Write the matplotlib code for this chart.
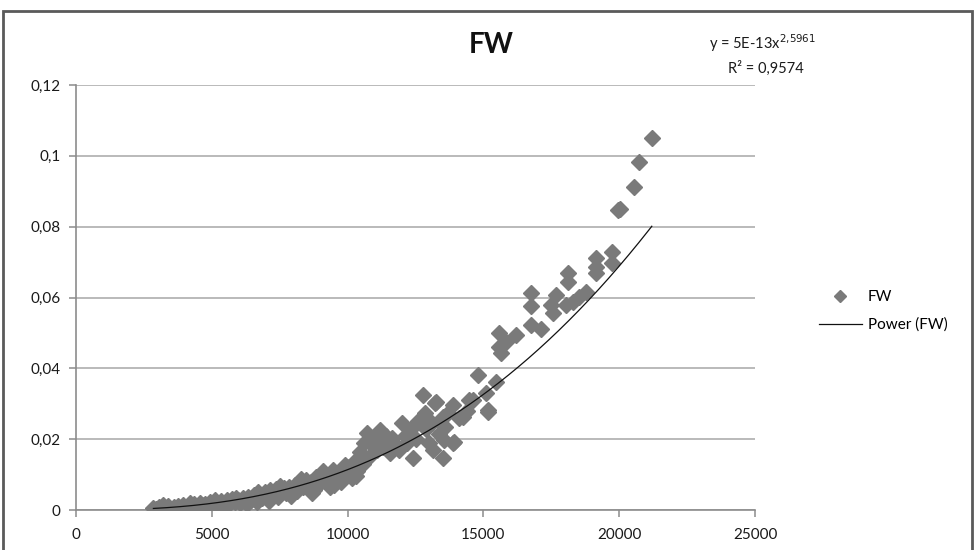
import matplotlib
matplotlib.use("Agg")
import matplotlib.pyplot as plt
import numpy as np
from matplotlib.patches import Rectangle
from matplotlib.lines import Line2D
from matplotlib.ticker import FuncFormatter

plt.rcParams['font.family'] = ['Lato', 'DejaVu Sans']

# FW measurements: speed (x) against FW value (y)
speed = [
    2850, 2950, 3050, 3150, 3300, 3400, 3500, 3600, 3750, 3850, 3950, 4050, 4150,
    4250, 4350, 4450, 4550, 4650, 4750, 4850, 4950,
    5050, 5150, 5250, 5350, 5450, 5550, 5650, 5750, 5850, 5950, 6050, 6150, 6250,
    6350, 6450, 6550, 6650, 6750, 6850, 6950,
    7050, 7150, 7250, 7350, 7450, 7550, 7650, 7750, 7850, 7950, 8050, 8150, 8250,
    8350, 8450, 8550, 8650, 8750, 8850, 8950,
    9050, 9150, 9250, 9350, 9450, 9550, 9650, 9750, 9850, 9950, 10050, 10150,
    10250, 10350, 10450, 10550,
    3200, 3700, 4200, 4600, 5100, 5500, 5900, 6300, 6700, 7100, 7500, 7900, 8300,
    8700, 9100, 9500, 9900, 10300,
    10600, 10700, 10800, 10900, 11000, 11100, 11200, 11300, 11400, 11550, 11650,
    11750, 11900, 12000, 12100, 12200, 12300, 12400, 12500, 12600,
    12770, 12850, 12900, 13000, 13100, 13150, 13200, 13250, 13350, 13500, 13500,
    13550, 13600, 13700, 13870, 13870, 13900, 14100, 14250, 14400, 14480,
    14600, 14810, 15100, 15160, 15160, 15460, 15590, 15590, 15650, 15850, 16200,
    16750, 16750, 16750, 17120, 17490, 17550, 17670, 18040, 18100, 18100, 18290,
    18530, 18780, 19140, 19140, 19140, 19750, 19750, 19940, 20040, 20550, 20740,
    21200,
]
fw = [
    0.0005, 0.0002, 0.0008, 0.0004, 0.0006, 0.0010, 0.0003, 0.0009, 0.0012, 0.0006,
    0.0015, 0.0009, 0.0013, 0.0007, 0.0017, 0.0011, 0.0021, 0.0014, 0.0018, 0.0010,
    0.0024,
    0.0016, 0.0022, 0.0013, 0.0026, 0.0019, 0.0028, 0.0017, 0.0031, 0.0023, 0.0027,
    0.0020, 0.0033, 0.0025, 0.0037, 0.0028, 0.0041, 0.0022, 0.0046, 0.0034, 0.0052,
    0.0040, 0.0056, 0.0045, 0.0060, 0.0038, 0.0054, 0.0063, 0.0049, 0.0066, 0.0058,
    0.0070, 0.0053, 0.0075, 0.0064, 0.0085, 0.0068, 0.0079, 0.0056, 0.0094, 0.0073,
    0.0101, 0.0082, 0.0090, 0.0066, 0.0113, 0.0095, 0.0104, 0.0078, 0.0118, 0.0100,
    0.0122, 0.0090, 0.0136, 0.0110, 0.0165, 0.0130,
    0.0013, 0.0002, 0.0019, 0.0006, 0.0028, 0.0010, 0.0034, 0.0016, 0.0050, 0.0026,
    0.0068, 0.0040, 0.0088, 0.0048, 0.0110, 0.0070, 0.0128, 0.0095,
    0.0188, 0.0217, 0.0150, 0.0184, 0.0200, 0.0170, 0.0226, 0.0179, 0.0210, 0.0160,
    0.0202, 0.0185, 0.0169, 0.0245, 0.0210, 0.0190, 0.0226, 0.0146, 0.0200, 0.0250,
    0.0325, 0.0273, 0.0230, 0.0188, 0.0245, 0.0169, 0.0301, 0.0306, 0.0215, 0.0263,
    0.0146, 0.0198, 0.0235, 0.0273, 0.0296, 0.0188, 0.0193, 0.0259, 0.0263, 0.0280,
    0.0310,
    0.0311, 0.0381, 0.0329, 0.0282, 0.0278, 0.0362, 0.0499, 0.0461, 0.0442, 0.0475,
    0.0494,
    0.0612, 0.0576, 0.0522, 0.0510, 0.0579, 0.0555, 0.0607, 0.0579, 0.0668, 0.0645,
    0.0588,
    0.0602, 0.0616, 0.0711, 0.0687, 0.0668, 0.0729, 0.0697, 0.0847, 0.0850, 0.0911,
    0.0983,
    0.1051,
]

# Power trendline y = a * x^b
trend_a = 4.7e-13
trend_b = 2.5961
r_squared = 0.9574

x_ticks = [0, 5000, 10000, 15000, 20000, 25000]
y_ticks = [0, 0.02, 0.04, 0.06, 0.08, 0.1, 0.12]

W, H = 975, 550
fig = plt.figure(figsize=(W / 100, H / 100), dpi=100)
fig.patch.set_facecolor('white')

ax = fig.add_axes([76 / W, 1 - 510 / H, (755 - 76) / W, (510 - 85) / H])
ax.set_xlim(x_ticks[0], x_ticks[-1])
ax.set_ylim(y_ticks[0], y_ticks[-1])
ax.set_xticks(x_ticks)
ax.set_yticks(y_ticks)


def comma_fmt(v, pos=None):
    return f"{v:g}".replace('.', ',')


ax.xaxis.set_major_formatter(FuncFormatter(comma_fmt))
ax.yaxis.set_major_formatter(FuncFormatter(comma_fmt))

grid_col = '#b4b4b4'
ax.grid(axis='y', color=grid_col, linewidth=1.3, zorder=0)
ax.set_axisbelow(True)
for side in ('top', 'right'):
    ax.spines[side].set_visible(False)
for side in ('left', 'bottom'):
    ax.spines[side].set_color('#8c8c8c')
    ax.spines[side].set_linewidth(1.2)
ax.tick_params(axis='both', direction='out', length=5, width=1.1, color='#8c8c8c',
               labelsize=11, labelcolor='#1a1a1a')
ax.tick_params(axis='x', pad=8)
ax.tick_params(axis='y', pad=6)

marker_col = '#7a7a7a'
ax.plot(speed, fw, linestyle='none', marker='D', markersize=8.4,
        markerfacecolor=marker_col, markeredgecolor=marker_col, zorder=3)

xs = np.linspace(min(speed), max(speed), 300)
ax.plot(xs, trend_a * xs ** trend_b, color='#111111', linewidth=0.9, zorder=4)

# Title and trendline equation
fig.text(491 / W, 1 - 45 / H, 'FW', fontsize=20, fontweight='bold',
         ha='center', va='center', color='#111111')
mant, expn = f"{trend_a:.0E}".split('E')
coef = f"{mant}E{int(expn)}"
expo = f"{trend_b:.4f}".replace('.', '{,}')
fig.text(762 / W, 1 - 43 / H, f"y = {coef}x$^{{{expo}}}$", fontsize=10.5,
         ha='center', va='center', color='#1a1a1a')
fig.text(766 / W, 1 - 68 / H, f"R² = {r_squared:.4f}".replace('.', ','),
         fontsize=10.5, ha='center', va='center', color='#1a1a1a')

# Legend
handles = [
    Line2D([], [], linestyle='none', marker='D', markersize=6,
           markerfacecolor=marker_col, markeredgecolor=marker_col, label='FW'),
    Line2D([], [], color='#111111', linewidth=0.9, label='Power (FW)'),
]
fig.legend(handles=handles, loc='center left', bbox_to_anchor=(805 / W, 1 - 311 / H),
           frameon=False, fontsize=11, handlelength=2.8, handletextpad=0.4,
           labelspacing=0.9)

# Outer frame
fig.patches.append(Rectangle((3 / W, -0.01), 969 / W, 1.01 - 11 / H,
                             transform=fig.transFigure, fill=False,
                             edgecolor='#5a5a5a', linewidth=2.0))

fig.savefig('out.png', dpi=100, facecolor='white')
